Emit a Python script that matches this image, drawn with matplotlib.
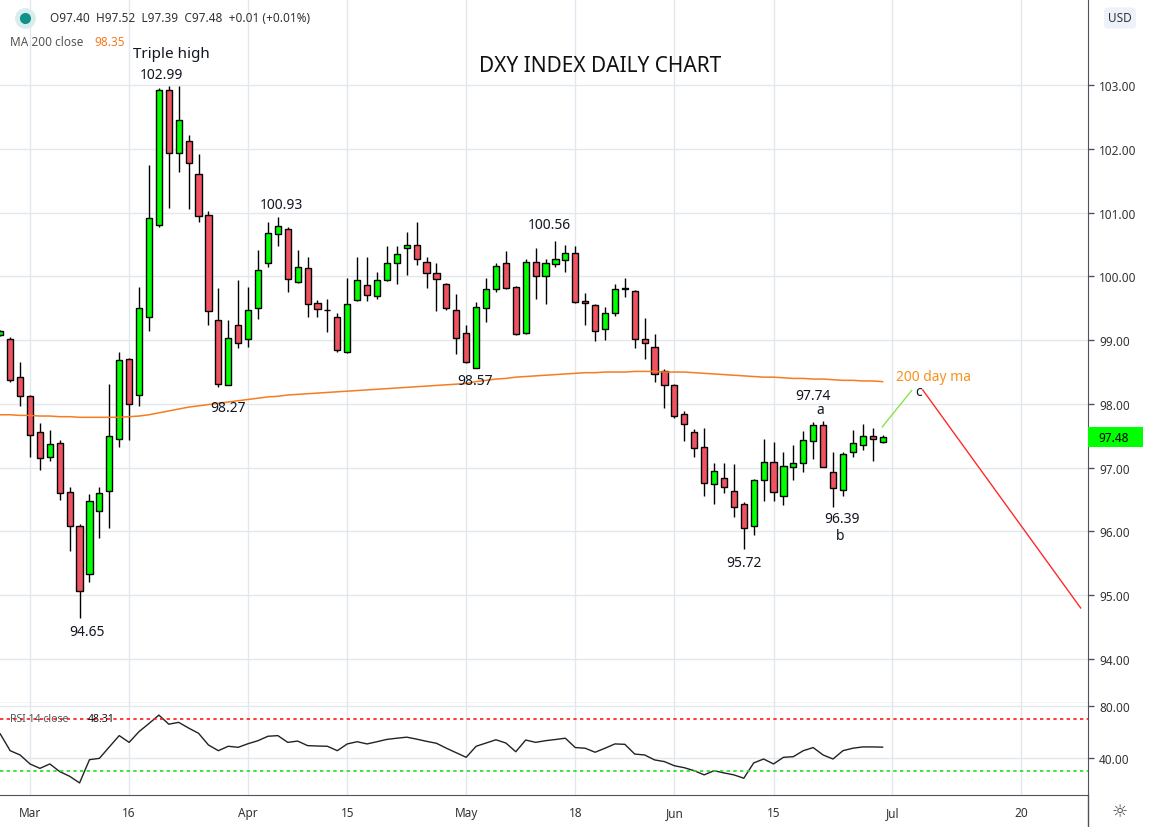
import numpy as np
import pandas as pd
import matplotlib
matplotlib.use('Agg')
import matplotlib.pyplot as plt
from matplotlib.lines import Line2D
from matplotlib.patches import Rectangle
from matplotlib.transforms import blended_transform_factory

plt.rcParams['font.family'] = ['Noto Sans', 'DejaVu Sans']

#daily candles, 26 Feb - 30 Jun 2020 (every weekday is a bar on this chart)
dates = pd.bdate_range('2020-02-26', '2020-06-30')
opens = [99.08, 99.02, 98.42, 98.12, 97.56, 97.16, 97.39, 96.62, 96.09, 95.33,
         96.32, 96.64, 97.45, 98.70, 98.14, 99.37, 100.80, 102.93, 101.94, 102.13,
         101.60, 100.96, 99.31, 98.30, 99.24, 99.02, 99.50, 100.21, 100.66, 100.75,
         99.91, 100.13, 99.58, 99.48, 99.37, 98.81, 99.63, 99.86, 99.70, 99.94,
         100.21, 100.44, 100.49, 100.22, 100.05, 99.88, 99.48, 99.12, 98.57, 99.50,
         99.80, 100.21, 99.83, 99.11, 100.22, 100.00, 100.19, 100.26, 100.36, 99.61,
         99.55, 99.17, 99.42, 99.80, 99.77, 99.02, 98.90, 98.51, 98.30, 97.84,
         97.56, 97.32, 96.74, 96.84, 96.63, 96.43, 96.08, 96.81, 97.09, 96.55,
         97.01, 97.07, 97.42, 97.67, 96.93, 96.65, 97.24, 97.36, 97.49, 97.40]
highs = [99.16, 99.05, 98.66, 98.14, 97.70, 97.59, 97.43, 96.69, 96.12, 96.59,
         96.69, 98.31, 98.82, 98.72, 99.83, 101.75, 102.95, 102.99, 102.99, 102.22,
         101.92, 101.03, 99.82, 99.31, 99.94, 99.84, 100.41, 100.85, 100.93, 100.78,
         100.42, 100.30, 99.63, 99.64, 99.42, 99.97, 100.31, 100.31, 100.07, 100.47,
         100.48, 100.69, 100.86, 100.31, 100.21, 99.89, 99.72, 99.23, 99.60, 99.97,
         100.21, 100.40, 99.85, 100.28, 100.45, 100.28, 100.56, 100.49, 100.47, 99.74,
         99.56, 99.52, 99.88, 99.97, 99.78, 99.35, 99.10, 98.54, 98.32, 97.89,
         97.61, 97.63, 97.07, 97.07, 97.06, 96.46, 96.82, 97.45, 97.40, 97.25,
         97.35, 97.58, 97.72, 97.74, 97.24, 97.24, 97.59, 97.69, 97.63, 97.52]
lows = [99.06, 98.35, 97.96, 97.17, 96.97, 97.11, 96.50, 95.70, 94.65, 95.21,
        95.90, 96.06, 97.33, 97.44, 97.97, 99.15, 100.77, 101.08, 101.64, 101.05,
        100.85, 99.23, 98.27, 98.29, 98.88, 98.90, 99.33, 100.14, 100.47, 99.76,
        99.89, 99.36, 99.36, 99.13, 98.82, 98.80, 99.61, 99.62, 99.65, 99.92,
        99.88, 100.02, 100.18, 99.82, 99.45, 99.48, 98.79, 98.64, 98.57, 99.29,
        99.75, 99.81, 99.08, 99.10, 99.65, 99.57, 100.14, 100.07, 99.58, 99.23,
        98.99, 99.01, 99.38, 99.68, 98.88, 98.71, 98.35, 97.94, 97.78, 97.42,
        97.17, 96.56, 96.43, 96.60, 96.22, 95.72, 95.95, 96.48, 96.48, 96.42,
        96.80, 96.94, 97.14, 97.01, 96.39, 96.55, 97.16, 97.27, 97.11, 97.39]
closes = [99.14, 98.38, 98.12, 97.51, 97.15, 97.37, 96.60, 96.08, 95.06, 96.47,
          96.60, 97.49, 98.69, 98.00, 99.50, 100.91, 102.93, 101.94, 102.46, 101.78,
          100.95, 99.45, 98.31, 99.03, 98.95, 99.48, 100.10, 100.68, 100.79, 99.96,
          100.15, 99.56, 99.49, 99.47, 98.85, 99.56, 99.94, 99.71, 99.94, 100.21,
          100.35, 100.49, 100.28, 100.05, 99.96, 99.50, 99.03, 98.66, 99.52, 99.81,
          100.17, 99.82, 99.09, 100.22, 100.00, 100.21, 100.27, 100.36, 99.60, 99.58,
          99.15, 99.42, 99.80, 99.82, 99.02, 98.95, 98.47, 98.30, 97.81, 97.69,
          97.31, 96.76, 96.95, 96.69, 96.38, 96.05, 96.81, 97.09, 96.62, 97.02,
          97.07, 97.44, 97.67, 97.01, 96.68, 97.21, 97.38, 97.49, 97.45, 97.48]
ma200 = [97.83, 97.83, 97.82, 97.82, 97.81, 97.81, 97.80, 97.80, 97.79, 97.79,
         97.79, 97.79, 97.79, 97.80, 97.81, 97.83, 97.86, 97.89, 97.92, 97.95,
         97.97, 97.99, 98.01, 98.03, 98.05, 98.07, 98.09, 98.11, 98.12, 98.14,
         98.15, 98.16, 98.17, 98.18, 98.19, 98.20, 98.21, 98.22, 98.23, 98.24,
         98.25, 98.26, 98.27, 98.28, 98.29, 98.30, 98.31, 98.32, 98.35, 98.37,
         98.39, 98.40, 98.42, 98.43, 98.44, 98.45, 98.46, 98.47, 98.48, 98.49,
         98.49, 98.50, 98.50, 98.50, 98.51, 98.51, 98.51, 98.50, 98.50, 98.50,
         98.49, 98.48, 98.47, 98.46, 98.45, 98.44, 98.43, 98.42, 98.42, 98.41,
         98.40, 98.40, 98.39, 98.39, 98.38, 98.37, 98.37, 98.36, 98.36, 98.35]
rsi14 = [58.5, 45.6, 42.3, 35.4, 32.0, 35.4, 29.5, 25.9, 20.8, 38.7,
         39.7, 48.5, 57.2, 52.0, 60.3, 66.5, 73.0, 66.0, 67.4, 63.0,
         59.0, 50.0, 45.6, 49.0, 48.2, 51.0, 53.3, 56.7, 57.2, 52.0,
         53.0, 49.5, 49.2, 49.0, 45.6, 50.8, 52.5, 50.8, 52.5, 54.3,
         55.2, 56.0, 54.5, 52.8, 51.3, 47.5, 44.0, 40.5, 49.0, 51.5,
         54.0, 51.5, 44.8, 53.8, 52.0, 53.3, 54.2, 55.2, 48.0, 47.5,
         44.4, 47.5, 50.8, 50.5, 43.0, 42.3, 38.5, 37.2, 34.0, 32.5,
         30.2, 27.0, 30.2, 28.5, 27.0, 24.4, 36.2, 39.2, 35.4, 40.5,
         41.0, 45.6, 48.0, 42.3, 39.2, 45.6, 47.5, 48.5, 48.5, 48.31]

#axis labels
axis_days = pd.bdate_range('2020-02-26', '2020-07-31')
tick_dates = ['2020-03-02', '2020-03-16', '2020-04-01', '2020-04-15', '2020-05-01',
              '2020-05-18', '2020-06-01', '2020-06-15', '2020-07-01', '2020-07-20']
tick_labels = ['Mar', '16', 'Apr', '15', 'May', '18', 'Jun', '15', 'Jul', '20']
price_ticks = [94, 95, 96, 97, 98, 99, 100, 101, 102, 103]

#annotations (label, bar position, price, size)
notes = [('Triple high', 17.3, 103.50, 11), ('102.99', 16.3, 103.16, 10),
         ('100.93', 28.4, 101.13, 10), ('100.56', 55.4, 100.81, 10),
         ('98.27', 23.0, 97.95, 10), ('98.57', 47.9, 98.36, 10),
         ('94.65', 8.75, 94.43, 10), ('95.72', 75.0, 95.52, 10),
         ('97.74', 82.0, 98.13, 10), ('a', 82.7, 97.91, 10),
         ('96.39', 84.9, 96.21, 10), ('b', 84.7, 95.93, 10),
         ('c', 92.6, 98.20, 10)]
#projected a-b-c path
wave_up_x, wave_up_y = [88.97, 91.93], [97.64, 98.21]
wave_dn_x, wave_dn_y = [93.05, 108.98], [98.22, 94.80]

W, H = 1152, 828
def fx(px): return px / W
def fy(py): return 1 - py / H

fig = plt.figure(figsize=(11.52, 8.28), dpi=100)
ax = fig.add_axes([0, fy(704), fx(1088), 704 / H])
rsi = fig.add_axes([0, fy(796), fx(1088), 92 / H], sharex=ax)

axis_col = '#50535e'
grid_col = '#e3e8ef'
up_col, dn_col = '#00ff00', '#ef5361'

x = np.arange(len(dates))
o, h, l, c = map(np.array, (opens, highs, lows, closes))
cols = np.where(c >= o, up_col, dn_col)
body = np.maximum(np.abs(c - o), 0.004)
ax.vlines(x, l, h, color='black', lw=1, zorder=2)
ax.bar(x, body, bottom=np.minimum(o, c), width=0.62, color=cols, edgecolor='black', lw=1, zorder=3)

ax.plot(x, ma200, color='#f57c1f', lw=1.1, zorder=4)

ax.plot(wave_up_x, wave_up_y, color='#8ee04a', lw=1, zorder=4)
ax.plot(wave_dn_x, wave_dn_y, color='#ff2a2a', lw=1, zorder=4)

for txt, px, py, fs in notes:
    ax.text(px, py, txt, ha='center', va='center', fontsize=fs, color='#131722', zorder=5)
ax.text(90.35, 98.43, '200 day ma', ha='left', va='center', fontsize=10, color='#f7931e')

tick_pos = [axis_days.get_loc(pd.Timestamp(d)) for d in tick_dates]
ax.set_xlim(-0.026, 109.72)
ax.set_ylim(93.31, 104.35)
ax.set_xticks(tick_pos)
ax.set_yticks(price_ticks)
ax.set_yticklabels([f'{v:.2f}' for v in price_ticks])
ax.yaxis.tick_right()
ax.tick_params(axis='y', length=4, width=1, color=axis_col, labelsize=8.5, labelcolor='#333333', pad=4)
ax.tick_params(axis='x', length=0, labelbottom=False)
ax.grid(color=grid_col, lw=1)
ax.set_axisbelow(True)
for s in ['top', 'left']:
    ax.spines[s].set_visible(False)
ax.spines['right'].set_color(axis_col)
ax.spines['bottom'].set_color(axis_col)

#last price marker on the scale
tr = blended_transform_factory(ax.transAxes, ax.transData)
ax.add_patch(Rectangle((1.0, 97.48 - 10 / 63.8), 55 / 1088, 20 / 63.8, transform=tr,
                       facecolor='#00ff00', edgecolor='none', clip_on=False, zorder=6))
ax.text(1.0 + 10 / 1088, 97.48, f'{closes[-1]:.2f}', transform=tr, ha='left', va='center',
        fontsize=8.5, color='black', clip_on=False, zorder=7)

#rsi pane
rsi.plot(x, rsi14, color='#222222', lw=1)
rsi.axhline(70, color='#ff1a1a', lw=1.2, ls=(0, (2, 2)))
rsi.axhline(30, color='#22dd22', lw=1.2, ls=(0, (2, 2)))
rsi.set_ylim(11.5, 82.3)
rsi.set_yticks([40, 80])
rsi.set_yticklabels(['40.00', '80.00'])
rsi.yaxis.tick_right()
rsi.tick_params(axis='y', length=4, width=1, color=axis_col, labelsize=8.5, labelcolor='#333333', pad=4)
rsi.tick_params(axis='x', length=0, labelsize=8.5, labelcolor='#333333', pad=8)
rsi.set_xticks(tick_pos)
rsi.set_xticklabels(tick_labels)
for lab in rsi.get_xticklabels():
    if lab.get_text().isalpha():
        lab.set_fontweight('bold')
rsi.grid(color=grid_col, lw=1)
rsi.set_axisbelow(True)
for s in ['top', 'left']:
    rsi.spines[s].set_visible(False)
rsi.spines['right'].set_color(axis_col)
rsi.spines['bottom'].set_color(axis_col)

fig.add_artist(Line2D([fx(1088)] * 2, [0, fy(796)], color=axis_col, lw=1))
fig.text(fx(1120), fy(812), '\u263c', ha='center', va='center', fontsize=13, color='#444444')

#header texts
fig.text(fx(600), fy(67), 'DXY INDEX DAILY CHART', ha='center', va='center', fontsize=15, color='#111111')
fig.text(fx(1120), fy(19), 'USD', ha='center', va='center', fontsize=8.5, color='#333333',
         bbox=dict(boxstyle='round,pad=0.35', fc='#edf1f8', ec='none'))
fig.lines.append(Line2D([fx(25)], [fy(19)], marker='o', ms=14, color='#d9eeec', transform=fig.transFigure, figure=fig))
fig.lines.append(Line2D([fx(25)], [fy(19)], marker='o', ms=7, color='#10918a', transform=fig.transFigure, figure=fig))
fig.text(fx(50), fy(19), 'O97.40  H97.52  L97.39  C97.48  +0.01 (+0.01%)', ha='left', va='center',
         fontsize=8.5, color='#333333')
fig.text(fx(10), fy(42), 'MA 200 close', ha='left', va='center', fontsize=8.5, color='#555555')
fig.text(fx(94), fy(42), f'{ma200[-1]:.2f}', ha='left', va='center', fontsize=8.5, color='#f57c1f')
fig.text(fx(10), fy(720), 'RSI 14 close', ha='left', va='center', fontsize=7.5, color='#555555')
fig.text(fx(88), fy(720), f'{rsi14[-1]:.2f}', ha='left', va='center', fontsize=7.5, color='#111111')

fig.savefig('out.png', dpi=100)
